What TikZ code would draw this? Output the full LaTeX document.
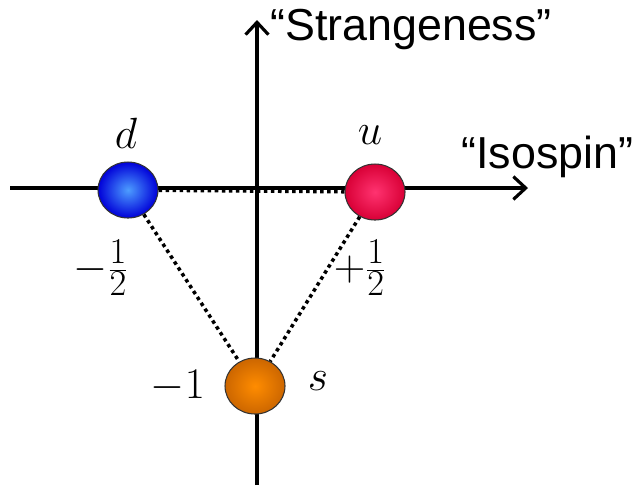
\documentclass[tikz,border=0pt]{standalone}
\usepackage{fontspec}
\setsansfont{Liberation Sans}
\usetikzlibrary{arrows.meta,shapes.geometric}
\begin{document}
\begin{tikzpicture}[x=0.02cm,y=-0.02cm,
  axis/.style={line width=1.8pt,-{Straight Barb[length=7pt,width=13pt,line width=1.8pt]}},
  ball/.style={ellipse,draw=black!80,line width=0.6pt,minimum width=1.2cm,minimum height=1.12cm},
  dotline/.style={line width=2pt,dotted},
  lbl/.style={font=\sffamily\fontsize{25.5}{30}\selectfont,inner sep=0pt},
  quark/.style={font=\fontsize{38}{42}\selectfont,inner sep=0pt},
  num/.style={font=\fontsize{25}{30}\selectfont,inner sep=0pt},
  frac/.style={font=\fontsize{30}{34}\selectfont,inner sep=0pt}]
\useasboundingbox (0,0) rectangle (634,485);
\coordinate (ybot) at (257,485);
\coordinate (ytop) at (257,20);
\coordinate (xl) at (10,188);
\coordinate (xr) at (528,188);
\draw[axis] (ybot) -- (ytop);
\draw[axis] (xl) -- (xr);
\node[ball,inner color=blue!55!cyan!70!white,outer color=blue!85!black] (d) at (128,190) {};
\node[ball,inner color=red!70!magenta!80!white,outer color=red!75!magenta!85!black] (u) at (375,192) {};
\node[ball,inner color=orange!90!yellow,outer color=orange!80!black] (s) at (255,386) {};
\draw[dotline] (d) -- (u);
\draw[dotline] (d) -- (s);
\draw[dotline] (u) -- (s);
\node[lbl,anchor=west] (strange) at (270,29) {“Strangeness”};
\node[lbl,anchor=west] (iso) at (461,157) {“Isospin”};
\node[quark] (dl) at (126,133) {$d$};
\node[quark] (ul) at (370,135) {$u$};
\node[quark] (sl) at (318,381) {$s$};
\node[num] (m1) at (178,386) {$-1$};
\node[frac] (mh) at (101,268) {$-\frac{1}{2}$};
\node[frac] (ph) at (360,268) {$+\frac{1}{2}$};
\end{tikzpicture}
\end{document}
